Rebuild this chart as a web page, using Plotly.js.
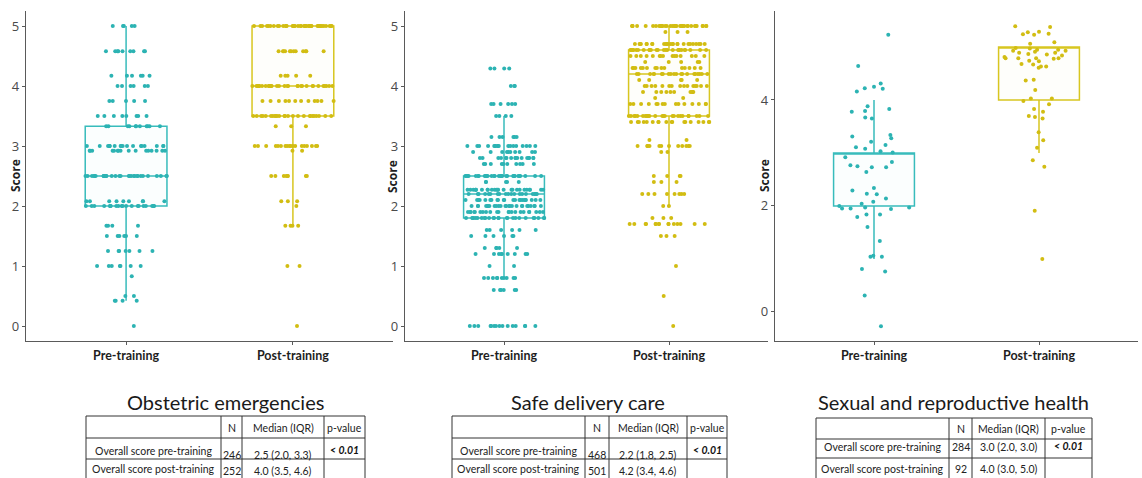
<!DOCTYPE html>
<html><head><meta charset="utf-8">
<script src="https://cdn.plot.ly/plotly-3.0.1.min.js"></script>
<style>html,body{margin:0;padding:0;background:#fff}#chart{width:1142px;height:478px}</style>
</head><body><div id="chart"></div>
<script>
// ---------------- DATA ----------------
const categories = ['Pre-training', 'Post-training'];
const panelTitles = ['Obstetric emergencies', 'Safe delivery care', 'Sexual and reproductive health'];
const yTitle = 'Score';

// Panel 1: Obstetric emergencies (score levels and visible dot counts)
const obsPreLevels  = [5, 4.58, 4.17, 4.0, 3.75, 3.5, 3.33, 3.0, 2.92, 2.5, 2.08, 2.0, 1.67, 1.5, 1.25, 1.0, 0.83, 0.5, 0.42, 0];
const obsPreCounts  = [5, 9, 6, 6, 5, 8, 11, 18, 16, 30, 9, 20, 4, 6, 7, 7, 1, 2, 4, 1];
const obsPostLevels = [5, 4.58, 4.17, 4.0, 3.75, 3.5, 3.33, 3.0, 2.92, 2.5, 2.08, 2.0, 1.67, 1.0, 0];
const obsPostCounts = [40, 12, 5, 30, 12, 25, 3, 18, 2, 8, 3, 1, 4, 2, 1];
const obsQ1 = [2.0, 3.5], obsMedian = [2.5, 4.0], obsQ3 = [3.33, 5.0], obsLower = [0.42, 1.67], obsUpper = [5.0, 5.0];

// Panel 2: Safe delivery care
const sdcPreLevels  = [4.29, 4.0, 3.7, 3.5, 3.15, 3.0, 2.9, 2.8, 2.7, 2.5, 2.4, 2.27, 2.2, 2.1, 2.0, 1.9, 1.8, 1.6, 1.5, 1.3, 1.2, 1.0, 0.8, 0.6, 0];
const sdcPreCounts  = [4, 3, 6, 4, 6, 18, 10, 16, 10, 30, 5, 25, 20, 22, 25, 22, 25, 6, 6, 5, 9, 2, 10, 6, 15];
const sdcPostLevels = [5.0, 4.9, 4.7, 4.6, 4.5, 4.4, 4.3, 4.2, 4.1, 4.0, 3.9, 3.8, 3.7, 3.5, 3.4, 3.1, 3.0, 2.9, 2.5, 2.4, 2.2, 2.0, 1.8, 1.7, 1.5, 1.0, 0.5, 0];
const sdcPostCounts = [35, 3, 25, 25, 15, 5, 15, 20, 5, 15, 10, 2, 15, 25, 18, 2, 12, 2, 4, 3, 8, 2, 3, 15, 3, 1, 1, 1];
const sdcQ1 = [1.8, 3.5], sdcMedian = [2.2, 4.2], sdcQ3 = [2.5, 4.6], sdcLower = [0.8, 2.0], sdcUpper = [3.5, 5.0];

// Panel 3: Sexual and reproductive health (individual jittered scores)
const srhPre = [5.23, 4.64, 4.21, 4.25, 4.16, 4.31, 4.22, 3.88, 3.83, 3.78, 3.79, 3.67, 3.65, 3.28, 3.31, 3.34, 3.15, 3.21, 3.11, 3.08, 3.01, 3.03, 2.92, 2.77, 2.73, 2.83, 2.73, 2.75, 2.64, 2.34, 2.29, 2.23, 2.22, 2.14, 2.08, 2.04, 1.97, 1.94, 1.97, 1.95, 1.95, 2.0, 1.84, 1.84, 1.79, 1.6, 1.34, 1.04, 1.04, 1.06, 0.76, 0.81, 0.31, -0.27];
const srhPost = [5.25, 5.29, 5.23, 5.28, 5.38, 5.39, 5.24, 5.09, 5.06, 4.98, 4.95, 4.89, 4.86, 4.81, 4.87, 4.79, 4.93, 4.84, 4.93, 4.95, 4.89, 4.91, 4.97, 4.79, 4.78, 4.79, 4.79, 4.74, 4.73, 4.67, 4.68, 4.63, 4.63, 4.61, 4.38, 4.37, 4.19, 4.03, 4.03, 3.98, 3.92, 3.83, 3.78, 3.7, 3.68, 3.65, 3.39, 3.24, 3.1, 2.86, 2.74, 1.91, 1.0];
const srhQ1 = [2.0, 4.0], srhMedian = [3.0, 5.0], srhQ3 = [3.0, 5.0], srhLower = [1.0, 3.0], srhUpper = [4.0, 5.0];

// Tables
const tableHeader = ['N', 'Median (IQR)', 'p-value'];
const rowLabels = ['Overall score pre-training', 'Overall score post-training'];
const obsN = [246, 252], obsMedIQR = ['2.5 (2.0, 3.3)', '4.0 (3.5, 4.6)'];
const sdcN = [468, 501], sdcMedIQR = ['2.2 (1.8, 2.5)', '4.2 (3.4, 4.6)'];
const srhN = [284, 92],  srhMedIQR = ['3.0 (2.0, 3.0)', '4.0 (3.0, 5.0)'];
const pValues = ['< 0.01', '< 0.01', '< 0.01'];

// ---------------- BUILD ----------------
const W = 1142, H = 478;
const px = x => x / W, py = y => 1 - y / H;
const TEAL = '#38bcbc', TEAL_PT = '#2cb3b3', YEL = '#d8c620', YEL_PT = '#d2bd12';

function expand(levels, counts) {
  const out = [];
  levels.forEach((v, i) => { for (let k = 0; k < counts[i]; k++) out.push(v); });
  return out;
}

const panels = [
  {pre: expand(obsPreLevels, obsPreCounts), post: expand(obsPostLevels, obsPostCounts),
   q1: obsQ1, med: obsMedian, q3: obsQ3, lo: obsLower, hi: obsUpper, jit: 1.0},
  {pre: expand(sdcPreLevels, sdcPreCounts), post: expand(sdcPostLevels, sdcPostCounts),
   q1: sdcQ1, med: sdcMedian, q3: sdcQ3, lo: sdcLower, hi: sdcUpper, jit: 1.0},
  {pre: srhPre, post: srhPost, q1: srhQ1, med: srhMedian, q3: srhQ3, lo: srhLower, hi: srhUpper, jit: 1.0}
];

const traces = [];
panels.forEach((p, k) => {
  const xa = 'x' + (k === 0 ? '' : k + 1), ya = 'y' + (k === 0 ? '' : k + 1);
  const groups = [[p.pre, TEAL, TEAL_PT, 'rgba(56,188,188,0.02)'], [p.post, YEL, YEL_PT, 'rgba(216,198,32,0.02)']];
  groups.forEach((g, j) => {
    traces.push({
      type: 'box', xaxis: xa, yaxis: ya, x: [categories[j]],
      q1: [p.q1[j]], median: [p.med[j]], q3: [p.q3[j]],
      lowerfence: [p.lo[j]], upperfence: [p.hi[j]],
      boxpoints: false, whiskerwidth: 0,
      line: {color: g[1], width: 1.5}, fillcolor: g[3],
      hoverinfo: 'skip', showlegend: false
    });
  });
  groups.forEach((g, j) => {
    traces.push({
      type: 'box', xaxis: xa, yaxis: ya, x0: categories[j], y: g[0],
      boxpoints: 'all', jitter: p.jit, pointpos: 0,
      line: {color: 'rgba(0,0,0,0)', width: 0}, fillcolor: 'rgba(0,0,0,0)',
      marker: {color: g[2], size: 4},
      hoverinfo: 'skip', showlegend: false
    });
  });
});

const xDomains = [[26, 393], [405, 768], [775, 1138]];
const yRanges = [[-0.25, 5.25], [-0.25, 5.25], [-0.55, 5.68]];
const yDticks = [1, 1, 2];
const layout = {
  width: W, height: H, margin: {l: 0, r: 0, t: 0, b: 0},
  paper_bgcolor: '#fff', plot_bgcolor: '#fff',
  boxmode: 'overlay', showlegend: false,
  annotations: [], shapes: []
};
xDomains.forEach((d, k) => {
  const s = k === 0 ? '' : k + 1;
  layout['xaxis' + s] = {
    domain: [px(d[0]), px(d[1])], anchor: 'y' + s, type: 'category',
    categoryorder: 'array', categoryarray: categories, range: [-0.6, 1.6],
    showline: true, linecolor: '#5a5a5a', linewidth: 1.3, ticks: 'outside', ticklen: 3,
    tickcolor: '#5a5a5a', showgrid: false, zeroline: false, fixedrange: true,
    tickfont: {family: 'Lato', size: 12.5, color: '#1e1e1e', weight: 'bold'}
  };
  layout['yaxis' + s] = {
    domain: [py(341), py(11)], anchor: 'x' + s, range: yRanges[k], dtick: yDticks[k], tick0: 0,
    showline: true, linecolor: '#5a5a5a', linewidth: 1.3, ticks: 'outside', ticklen: 3,
    tickcolor: '#5a5a5a', showgrid: false, zeroline: false, fixedrange: true,
    tickfont: {family: 'Open Sans', size: 13, color: '#4a4a4a'}
  };
});

// y titles
[15, 392, 764].forEach(x => layout.annotations.push({
  text: yTitle, xref: 'paper', yref: 'paper', x: px(x), y: py(176), textangle: -90,
  showarrow: false, xanchor: 'center', yanchor: 'middle',
  font: {family: 'Open Sans', size: 12, color: '#1e1e1e', weight: 'bold'}
}));

// panel titles
[225, 588, 953].forEach((x, k) => layout.annotations.push({
  text: panelTitles[k], xref: 'paper', yref: 'paper', x: px(x), y: py(402),
  showarrow: false, xanchor: 'center', yanchor: 'middle',
  font: {family: 'Lato', size: 20, color: '#1a1a1a'}
}));

// tables
const tableCols = [[86, 221, 242, 324, 365], [452, 585, 609, 687, 727], [816, 949, 972, 1045, 1092]];
const tableRows = [[416, 438, 459], [416, 438, 459], [418, 439, 458]];
const headerY = [428, 428, 429];
const labelY = [[451, 469], [451, 469], [447, 469]];
const valueY = [[455, 471], [455, 471], [447, 469]];
const tblN = [obsN, sdcN, srhN], tblMed = [obsMedIQR, sdcMedIQR, srhMedIQR];
const tf = {family: 'Lato', size: 10.5, color: '#222'};
tableCols.forEach((cols, t) => {
  const rows = tableRows[t];
  rows.forEach(r => layout.shapes.push({type: 'line', xref: 'paper', yref: 'paper',
    x0: px(cols[0]), x1: px(cols[4]), y0: py(r), y1: py(r), line: {color: '#333', width: 1}}));
  cols.forEach(c => layout.shapes.push({type: 'line', xref: 'paper', yref: 'paper',
    x0: px(c), x1: px(c), y0: py(rows[0]), y1: py(482), line: {color: '#333', width: 1}}));
  const mid = i => px((cols[i] + cols[i + 1]) / 2);
  const ann = (text, x, y, font) => layout.annotations.push({text, xref: 'paper', yref: 'paper',
    x, y: py(y), showarrow: false, xanchor: 'center', yanchor: 'middle', font: font || tf});
  tableHeader.forEach((h, i) => ann(h, mid(i + 1), headerY[t]));
  rowLabels.forEach((lab, r) => {
    ann(lab, mid(0), labelY[t][r]);
    ann(String(tblN[t][r]), mid(1), valueY[t][r]);
    ann(tblMed[t][r], mid(2), valueY[t][r]);
  });
  ann('<b><i>' + pValues[t].replace('<', '&lt;') + '</i></b>', mid(3), labelY[t][0] - 1,
      {family: 'Lato', size: 10.5, color: '#111'});
});

Plotly.newPlot('chart', traces, layout, {displayModeBar: false, staticPlot: true});
</script>
</body></html>
